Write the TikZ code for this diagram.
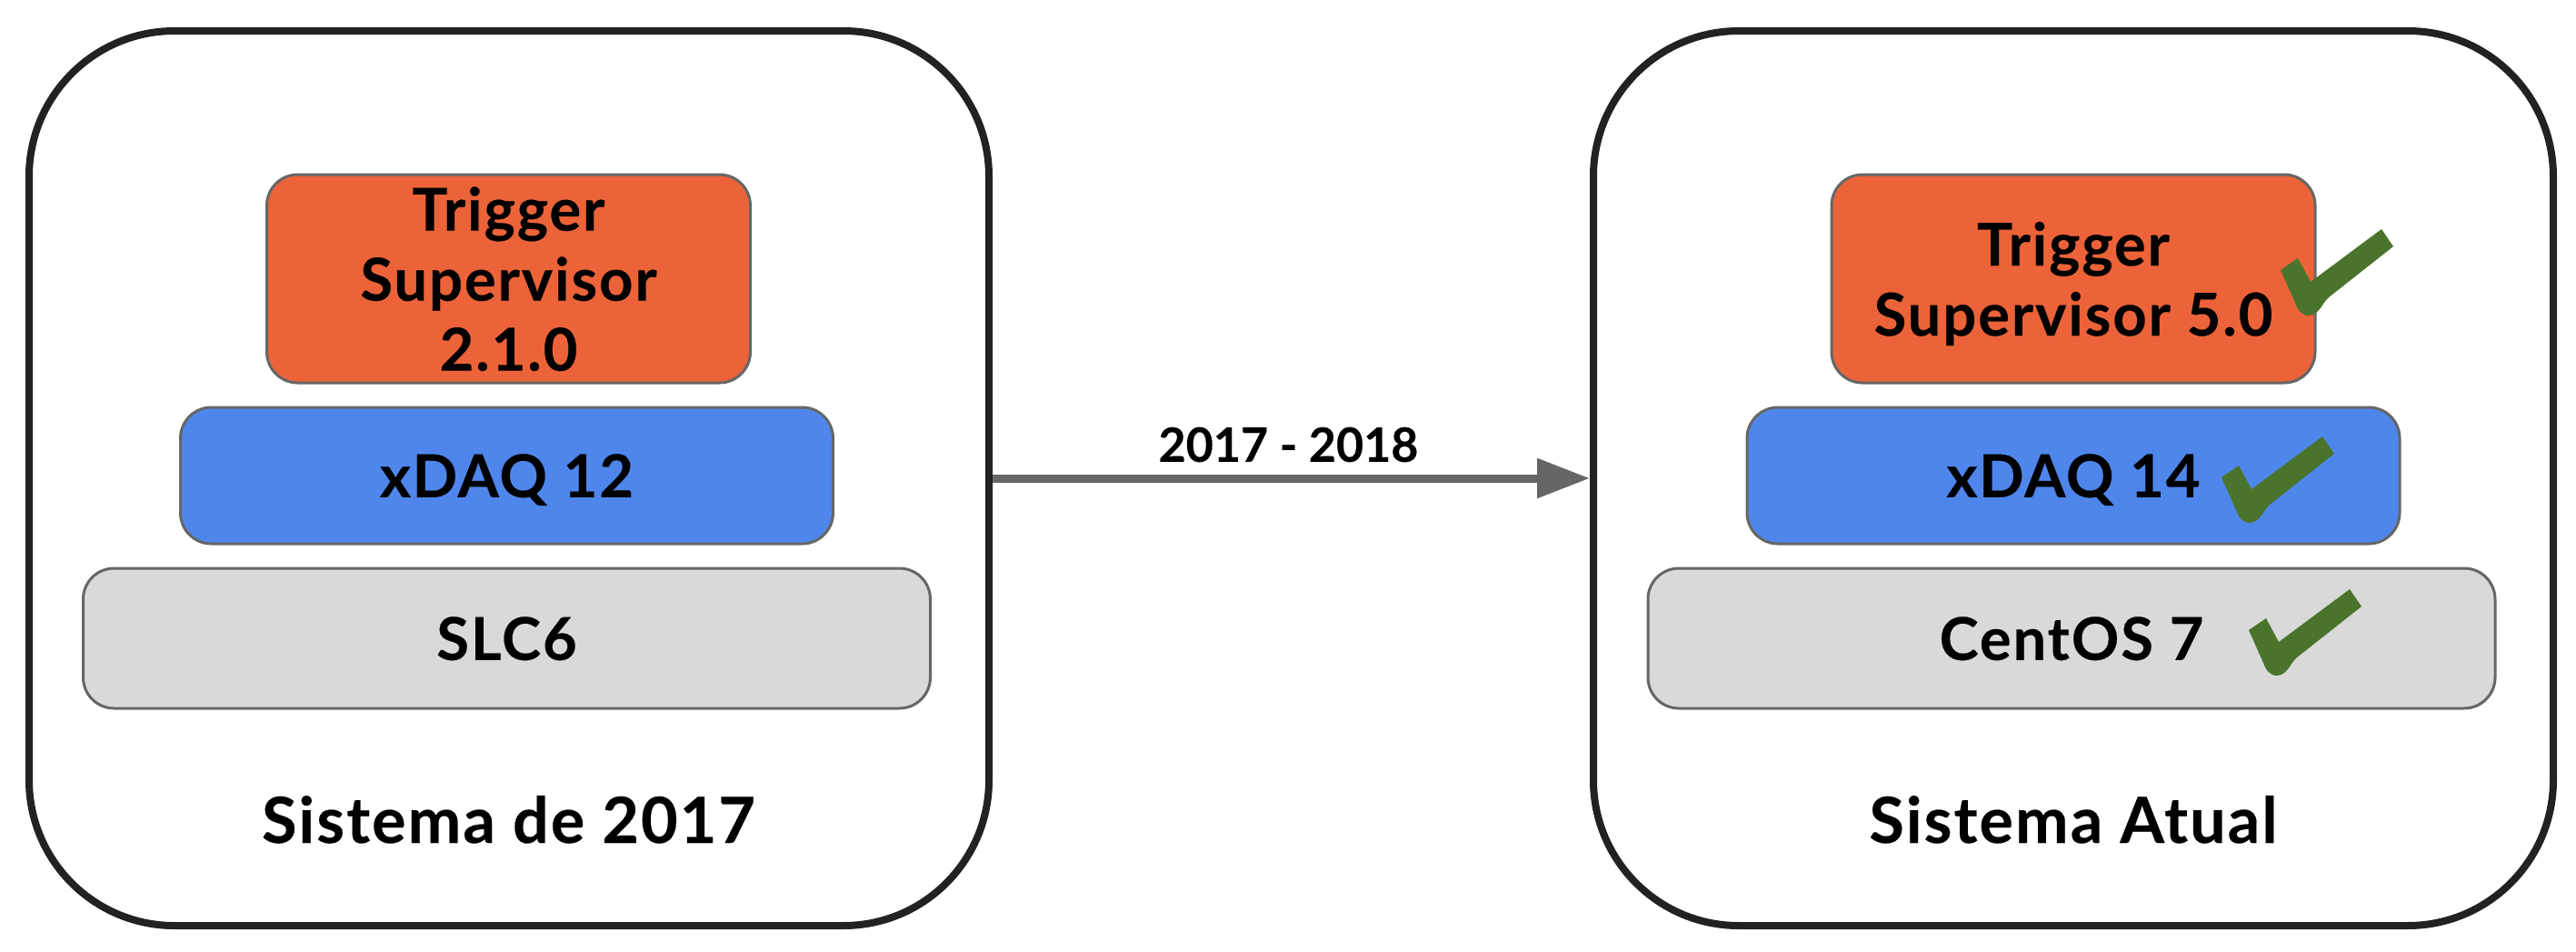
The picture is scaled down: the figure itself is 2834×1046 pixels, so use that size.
\documentclass[tikz,border=0pt]{standalone}
\usepackage{fontspec}
\setmainfont{Lato}[BoldFeatures={FakeBold=0.3}]
\newfontfamily\spacedfont{Lato}[LetterSpace=3,BoldFeatures={FakeBold=0.3}]
\usetikzlibrary{arrows.meta}
\definecolor{tsorange}{HTML}{EC6339}
\definecolor{xblue}{HTML}{4F86EC}
\definecolor{osgray}{HTML}{D9D9D9}
\definecolor{chk}{HTML}{4A742C}
\definecolor{edgegray}{HTML}{666666}
\definecolor{framec}{HTML}{222222}
\tikzset{
  outer/.style={draw=framec,line width=4pt,rounded corners=80pt,minimum width=528pt,minimum height=492pt,inner sep=0pt},
  layer/.style={draw=edgegray,line width=1.5pt,inner sep=0pt,align=center,rounded corners=17pt,text depth=0pt,
    font=\spacedfont\fontsize{32.5}{38.5}\selectfont\bfseries},
  tslayer/.style={layer,fill=tsorange,minimum width=266pt,minimum height=114.5pt},
  xlayer/.style={layer,fill=xblue,minimum width=359pt,minimum height=75pt},
  oslayer/.style={layer,fill=osgray,minimum width=466pt,minimum height=77pt},
  title/.style={font=\spacedfont\fontsize{35}{40}\selectfont\bfseries,anchor=base,inner sep=0pt},
  yearlabel/.style={font=\fontsize{26}{31}\selectfont\bfseries,inner sep=0pt},
  migr/.style={draw=edgegray,line width=4.5pt,-{Triangle[length=29pt,width=21pt]}},
  tick/.pic={\fill[chk] (-31,-50) -- (-12,-63) -- (2,-37) -- (80,-95) -- (93,-76) -- (22,-20)
      .. controls (14,-13) and (12,-1) .. (0,0) .. controls (-8,0) and (-12,-6) .. (-15,-14) -- cycle;}
}
\begin{document}
\begin{tikzpicture}[x=0.5pt,y=-0.5pt]
\useasboundingbox (0,0) rectangle (2834,1046);
% left system
\node[outer] (L) at (560,526) {};
\node[tslayer] (lts) at (559.5,306.5) {Trigger\\Supervisor\\2.1.0};
\node[xlayer] (lx) at (557.5,523) {xDAQ 12};
\node[oslayer] (los) at (557.5,702) {SLC6};
\node[title] (lt) at (559.5,927) {Sistema de 2017};
% right system
\node[outer] (R) at (2281,526) {};
\node[tslayer] (rts) at (2281,306.5) {Trigger\\Supervisor 5.0};
\node[xlayer] (rx) at (2281,523) {xDAQ 14};
\node[oslayer] (ros) at (2279,702) {CentOS 7};
\node[title] (rt) at (2281,927) {Sistema Atual};
% checks
\pic at (2540,347) {tick};
\pic at (2475,575) {tick};
\pic at (2505,743) {tick};
% migration arrow
\draw[migr] (L.east) -- (R.west);
\node[yearlabel] (yr) at (1417.5,489) {2017 - 2018};
\end{tikzpicture}
\end{document}
